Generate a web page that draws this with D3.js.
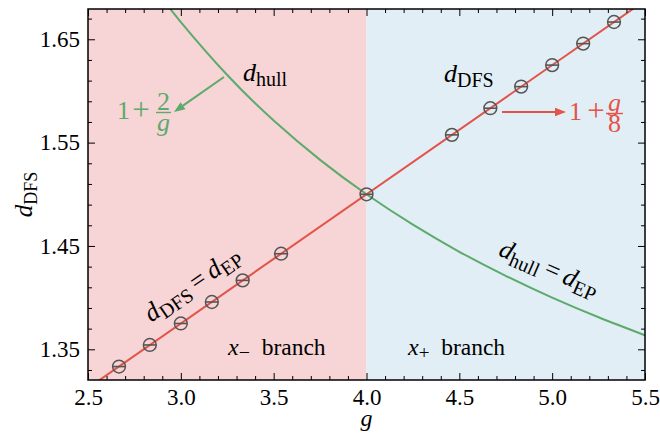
<!DOCTYPE html>
<html><head><meta charset="utf-8">
<script src="https://cdn.jsdelivr.net/npm/d3@7"></script>
<style>
body{margin:0;background:#fff}
</style>
</head><body>
<svg id="chart" width="660" height="437"></svg>
<script>
// ---------- data ----------
const gDomain = [2.5, 5.5];
const dDomain = [1.3203, 1.6793];
const xMajorTicks = [2.5, 3.0, 3.5, 4.0, 4.5, 5.0, 5.5];
const xTickLabels = ["2.5", "3.0", "3.5", "4.0", "4.5", "5.0", "5.5"];
const yMajorTicks = [1.35, 1.45, 1.55, 1.65];
const yTickLabels = ["1.35", "1.45", "1.55", "1.65"];
const xMinorTicks = [2.6,2.7,2.8,2.9,3.1,3.2,3.3,3.4,3.6,3.7,3.8,3.9,4.1,4.2,4.3,4.4,4.6,4.7,4.8,4.9,5.1,5.2,5.3,5.4];
const yMinorTicks = [1.33,1.37,1.39,1.41,1.43,1.47,1.49,1.51,1.53,1.57,1.59,1.61,1.63,1.67];
const branchSplit = 4.0;
// simulated points (circles)
const simG = [2.667, 2.833, 3.0, 3.167, 3.333, 3.54, 4.0, 4.46, 4.667, 4.833, 5.0, 5.167, 5.333];
const simD = [1.3333, 1.3542, 1.375, 1.3958, 1.4167, 1.4425, 1.5, 1.5575, 1.5833, 1.6042, 1.625, 1.6458, 1.6667];
// d_DFS = 1 + g/8 (red line)
const dfsG = [2.5, 5.5];
const dfsD = [1.3125, 1.6875];
// d_hull = 1 + 2/g (green curve)
const hullG = [2.9, 3.0, 3.25, 3.5, 3.75, 4.0, 4.25, 4.5, 4.75, 5.0, 5.25, 5.5];
const hullD = [1.6897, 1.6667, 1.6154, 1.5714, 1.5333, 1.5, 1.4706, 1.4444, 1.4211, 1.4, 1.381, 1.3636];

// ---------- layout ----------
const W = 660, H = 437;
const M = {left: 88, right: 15, top: 9, bottom: 57};
const iw = W - M.left - M.right, ih = H - M.top - M.bottom;
const RED = "#e2534a", GREEN = "#5caa6c", PINK = "#f7d4d5", BLUE = "#e2eef5";
const SERIF = '"Liberation Serif", "Times New Roman", Tinos, serif';

const svg = d3.select("#chart");
const g = svg.append("g").attr("transform", `translate(${M.left},${M.top})`);
const x = d3.scaleLinear().domain(gDomain).range([0, iw]);
const y = d3.scaleLinear().domain(dDomain).range([ih, 0]);

svg.append("defs").append("clipPath").attr("id", "clip")
  .append("rect").attr("width", iw).attr("height", ih);

// backgrounds
g.append("rect").attr("x", 0).attr("y", 0).attr("width", x(branchSplit)).attr("height", ih).attr("fill", PINK);
g.append("rect").attr("x", x(branchSplit)).attr("y", 0).attr("width", iw - x(branchSplit)).attr("height", ih).attr("fill", BLUE);

// lines
const plot = g.append("g").attr("clip-path", "url(#clip)");
plot.append("path").datum(d3.zip(hullG, hullD))
  .attr("fill", "none").attr("stroke", GREEN).attr("stroke-width", 2)
  .attr("d", d3.line().x(d => x(d[0])).y(d => y(d[1])).curve(d3.curveNatural));
plot.append("path").datum(d3.zip(dfsG, dfsD))
  .attr("fill", "none").attr("stroke", RED).attr("stroke-width", 2)
  .attr("d", d3.line().x(d => x(d[0])).y(d => y(d[1])));

// markers
const r = 6.4;
const mk = g.append("g").selectAll("g").data(d3.zip(simG, simD)).join("g")
  .attr("transform", d => `translate(${x(d[0])},${y(d[1])})`);
mk.append("circle").attr("r", r).attr("fill", "none").attr("stroke", "#555").attr("stroke-width", 1.5);
mk.append("line").attr("x1", -r).attr("x2", r).attr("stroke", "#555").attr("stroke-width", 1.6);

// axes
function styleAxis(sel) {
  sel.attr("font-family", SERIF);
  sel.select(".domain").remove();
  sel.selectAll("line").attr("stroke", "#000").attr("stroke-width", 1);
  sel.selectAll("text").attr("font-family", SERIF).attr("font-size", 23).attr("fill", "#000");
}
g.append("g").attr("transform", `translate(0,${ih})`)
  .call(d3.axisBottom(x).tickValues(xMajorTicks).tickFormat((d, i) => xTickLabels[i]).tickSizeInner(-7).tickSizeOuter(0).tickPadding(9)).call(styleAxis);
g.append("g").attr("transform", `translate(0,${ih})`)
  .call(d3.axisBottom(x).tickValues(xMinorTicks).tickFormat("").tickSizeInner(-4).tickSizeOuter(0)).call(styleAxis);
g.append("g")
  .call(d3.axisTop(x).tickValues(xMajorTicks).tickFormat("").tickSizeInner(-7).tickSizeOuter(0)).call(styleAxis);
g.append("g")
  .call(d3.axisTop(x).tickValues(xMinorTicks).tickFormat("").tickSizeInner(-4).tickSizeOuter(0)).call(styleAxis);
g.append("g")
  .call(d3.axisLeft(y).tickValues(yMajorTicks).tickFormat((d, i) => yTickLabels[i]).tickSizeInner(-7).tickSizeOuter(0).tickPadding(8)).call(styleAxis);
g.append("g")
  .call(d3.axisLeft(y).tickValues(yMinorTicks).tickFormat("").tickSizeInner(-4).tickSizeOuter(0)).call(styleAxis);
g.append("g").attr("transform", `translate(${iw},0)`)
  .call(d3.axisRight(y).tickValues(yMajorTicks).tickFormat("").tickSizeInner(-7).tickSizeOuter(0)).call(styleAxis);
g.append("g").attr("transform", `translate(${iw},0)`)
  .call(d3.axisRight(y).tickValues(yMinorTicks).tickFormat("").tickSizeInner(-4).tickSizeOuter(0)).call(styleAxis);

g.append("rect").attr("width", iw).attr("height", ih).attr("fill", "none").attr("stroke", "#000").attr("stroke-width", 1.5);

// ---------- text helpers ----------
function rich(parent, px, py, parts, opts = {}) {
  const t = parent.append("text").attr("x", px).attr("y", py)
    .attr("font-family", SERIF).attr("fill", opts.fill || "#000")
    .attr("text-anchor", opts.anchor || "start");
  if (opts.rotate) t.attr("transform", `rotate(${opts.rotate},${px},${py})`);
  let shift = 0;
  parts.forEach(p => {
    const ts = t.append("tspan").text(p.t).attr("font-size", p.size || 23);
    if (p.italic) ts.attr("font-style", "italic");
    const want = p.sub || 0;
    if (want !== shift) { ts.attr("dy", want - shift); shift = want; }
    if (p.dx) ts.attr("dx", p.dx);
  });
  return t;
}

// axis labels
rich(svg, M.left + x(4.0), 426, [{t: "g", italic: true, size: 24}], {anchor: "middle"});
rich(svg, 32, M.top + ih / 2, [{t: "d", italic: true, size: 25}, {t: "DFS", size: 18, sub: 5}], {anchor: "middle", rotate: -90});

// annotations
const A = svg.append("g");
const DS = 26, SS = 20;
rich(A, 243, 81, [{t: "d", italic: true, size: DS}, {t: "hull", size: SS, sub: 5}]);
rich(A, 444, 82, [{t: "d", italic: true, size: DS}, {t: "DFS", size: SS, sub: 5}]);
rich(A, 197, 291, [{t: "d", italic: true, size: DS}, {t: "DFS", size: SS, sub: 5}, {t: "\u2009=\u2009", size: DS, sub: 0}, {t: "d", italic: true, size: DS}, {t: "EP", size: SS, sub: 5}], {anchor: "middle", rotate: -34.8});
rich(A, 546, 276, [{t: "d", italic: true, size: DS}, {t: "hull", size: SS, sub: 5}, {t: "\u2009=\u2009", size: DS, sub: 0}, {t: "d", italic: true, size: DS}, {t: "EP", size: SS, sub: 5}], {anchor: "middle", rotate: 23.5});
rich(A, 228, 355, [{t: "x", italic: true, size: 24}, {t: "\u2212", size: 20, sub: 4}, {t: "\u2002branch", size: 23.5, sub: 0}]);
rich(A, 408, 355, [{t: "x", italic: true, size: 24}, {t: "+", size: 19, sub: 4}, {t: "\u2002branch", size: 23.5, sub: 0}]);

// fractions (single text element each)
function frac(parent, px, by, plusCx, fx, fw, num, numIt, den, denIt, color) {
  const FS = 26;
  const cx = fx + fw / 2, ly = by - 6.5;
  parent.append("line").attr("x1", fx).attr("x2", fx + fw).attr("y1", ly).attr("y2", ly).attr("stroke", color).attr("stroke-width", 1.4);
  const t = parent.append("text").attr("font-family", SERIF).attr("fill", color).attr("font-size", FS);
  t.append("tspan").attr("x", px).attr("y", by).text("1");
  t.append("tspan").attr("x", plusCx).attr("y", by + 1).attr("text-anchor", "middle").attr("font-size", 31).text("+");
  t.append("tspan").attr("x", cx).attr("y", ly - 3).attr("text-anchor", "middle").attr("font-style", numIt ? "italic" : "normal").text(num);
  t.append("tspan").attr("x", cx).attr("y", ly + 18).attr("text-anchor", "middle").attr("font-style", denIt ? "italic" : "normal").text(den);
}
frac(A, 117, 119, 141, 156, 15, "2", false, "g", true, GREEN);
frac(A, 569, 120, 596, 606, 17, "g", true, "8", false, RED);

// arrows
function arrow(parent, x1, y1, x2, y2, color) {
  const ang = Math.atan2(y2 - y1, x2 - x1), L = 11, Wd = 4.2;
  const bx = x2 - L * Math.cos(ang), by = y2 - L * Math.sin(ang);
  parent.append("line").attr("x1", x1).attr("y1", y1).attr("x2", bx).attr("y2", by).attr("stroke", color).attr("stroke-width", 2);
  const px = -Math.sin(ang) * Wd, py = Math.cos(ang) * Wd;
  parent.append("path").attr("d", `M${x2},${y2}L${bx + px},${by + py}L${bx - px},${by - py}Z`).attr("fill", color);
}
arrow(A, 224, 77, 174, 112, GREEN);
arrow(A, 502, 112, 566, 112, RED);
</script>
</body></html>
